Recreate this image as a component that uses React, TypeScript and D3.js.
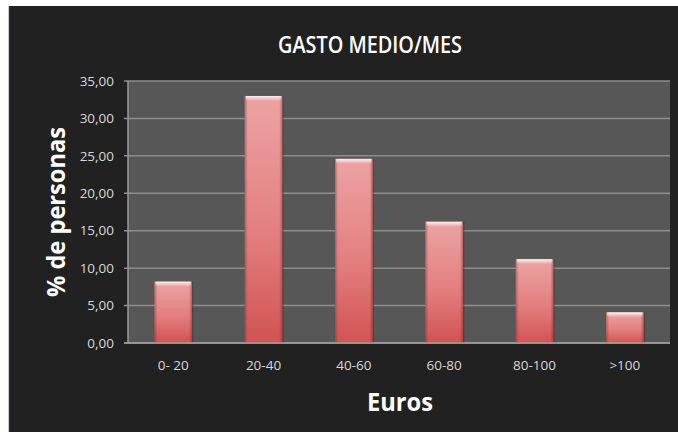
import React from "react";
import * as d3 from "d3";

const categories = ["0- 20", "20-40", "40-60", "60-80", "80-100", ">100"];
const values = [8.2, 33.0, 24.6, 16.2, 11.2, 4.1];
const yTicks = [0, 5, 10, 15, 20, 25, 30, 35];
const title = "GASTO MEDIO/MES";
const yTitle = "% de personas";
const xTitle = "Euros";

const W = 678;
const H = 432;
const plot = { left: 128, right: 670, top: 81, bottom: 343 };
const FONT = "'Open Sans', 'DejaVu Sans', sans-serif";

export default function App() {
  const x = d3
    .scaleBand<string>()
    .domain(categories)
    .range([plot.left, plot.right])
    .paddingInner(0.585)
    .paddingOuter(0.2925);
  const y = d3.scaleLinear().domain([0, 35]).range([plot.bottom, plot.top]);
  const fmt = (v: number) => d3.format(".2f")(v).replace(".", ",");

  return (
    <svg
      width={W}
      height={H}
      style={{ position: "absolute", left: 0, top: 0, display: "block" }}
    >
      <defs>
        <linearGradient id="barV" x1="0" y1="0" x2="0" y2="1">
          <stop offset="0%" stopColor="#f2aaaa" />
          <stop offset="55%" stopColor="#e98484" />
          <stop offset="100%" stopColor="#d65656" />
        </linearGradient>
        <linearGradient id="barH" x1="0" y1="0" x2="1" y2="0">
          <stop offset="0%" stopColor="#7a2020" stopOpacity={0.45} />
          <stop offset="8%" stopColor="#7a2020" stopOpacity={0.05} />
          <stop offset="92%" stopColor="#7a2020" stopOpacity={0.05} />
          <stop offset="100%" stopColor="#7a2020" stopOpacity={0.45} />
        </linearGradient>
        <linearGradient id="barTop" x1="0" y1="0" x2="0" y2="1">
          <stop offset="0%" stopColor="#ffffff" stopOpacity={0.85} />
          <stop offset="100%" stopColor="#ffffff" stopOpacity={0} />
        </linearGradient>
      </defs>
      <rect x={0} y={0} width={W} height={H} fill="#ffffff" />
      <rect x={9} y={6} width={W - 9} height={H - 6} fill="#212121" />
      <line x1={9.5} y1={6} x2={9.5} y2={H} stroke="#2b2b45" strokeWidth={1.5} />

      <text
        x={370}
        y={53}
        textAnchor="middle"
        fill="#ffffff"
        fontFamily={FONT}
        fontWeight={600}
        fontSize={24}
        textLength={184}
        lengthAdjust="spacingAndGlyphs"
      >
        {title}
      </text>

      <rect
        x={plot.left}
        y={plot.top}
        width={plot.right - plot.left}
        height={plot.bottom - plot.top}
        fill="#575757"
      />

      {yTicks.map((t) => (
        <g key={t}>
          <line
            x1={plot.left - 4}
            x2={plot.right}
            y1={y(t)}
            y2={y(t)}
            stroke="#8e8e8e"
            strokeWidth={1.5}
          />
          <text
            x={plot.left - 14}
            y={y(t)}
            dy="0.35em"
            textAnchor="end"
            fill="#d8d8d8"
            fontFamily={FONT}
            fontSize={13.5}
          >
            {fmt(t)}
          </text>
        </g>
      ))}

      {categories.map((c, i) => {
        const bx = x(c)!;
        const bw = x.bandwidth();
        const top = y(values[i]);
        const bh = plot.bottom - top;
        return (
          <g key={c}>
            <rect x={bx + 1.5} y={top} width={bw} height={bh} fill="#3a3a3a" opacity={0.5} />
            <rect x={bx} y={top} width={bw} height={bh} fill="url(#barV)" />
            <rect x={bx} y={top} width={bw} height={bh} fill="url(#barH)" />
            <rect x={bx + 1} y={top} width={bw - 2} height={5} fill="url(#barTop)" />
          </g>
        );
      })}

      <line
        x1={plot.left}
        x2={plot.left}
        y1={plot.top}
        y2={plot.bottom}
        stroke="#9a9a9a"
        strokeWidth={1.5}
      />
      <line
        x1={plot.left - 4}
        x2={plot.right}
        y1={plot.bottom}
        y2={plot.bottom}
        stroke="#a0a0a0"
        strokeWidth={1.5}
      />

      {categories.map((c) => (
        <text
          key={c}
          x={x(c)! + x.bandwidth() / 2}
          y={365}
          dy="0.35em"
          textAnchor="middle"
          fill="#d8d8d8"
          fontFamily={FONT}
          fontSize={13.5}
        >
          {c}
        </text>
      ))}

      <text
        x={400}
        y={411}
        textAnchor="middle"
        fill="#ffffff"
        fontFamily={FONT}
        fontWeight={700}
        fontSize={25}
        textLength={66}
        lengthAdjust="spacingAndGlyphs"
      >
        {xTitle}
      </text>

      <text
        transform="translate(65,212) rotate(-90)"
        textAnchor="middle"
        fill="#ffffff"
        fontFamily={FONT}
        fontWeight={700}
        fontSize={25}
        textLength={170}
        lengthAdjust="spacingAndGlyphs"
      >
        {yTitle}
      </text>
    </svg>
  );
}
